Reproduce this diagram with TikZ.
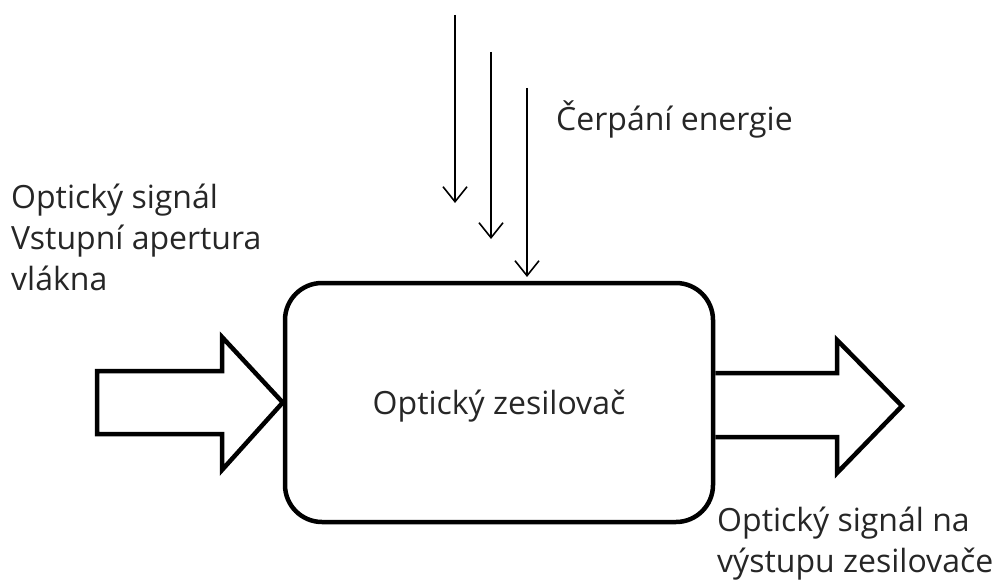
\documentclass[tikz,border=0pt]{standalone}
\usepackage{fontspec}
\setmainfont{Open Sans}
\usetikzlibrary{arrows.meta}
\begin{document}
\begin{tikzpicture}[x=1pt,y=-1pt,
  txt/.style={text=black!85, font=\fontsize{32}{41}\selectfont, inner sep=0pt},
  blockarrow/.style={draw=black, line width=4.5pt, miter limit=10, line join=miter, fill=white},
  pump/.style={draw=black, line width=1.6pt, -{Straight Barb[length=15pt,width=24pt,line width=1.6pt]}}]
\useasboundingbox (0,0) rectangle (992,580);
% amplifier box
\node[draw=black, line width=4.5pt, rounded corners=37pt, minimum width=428pt, minimum height=239pt, txt] (amp) at (499,402.5) {Optický zesilovač\vphantom{Ů}};
% input block arrow
\draw[blockarrow] (97,371) -- (222,371) -- (222,337) -- (amp.west) -- (222,470) -- (222,434) -- (97,434) -- cycle;
% output block arrow
\draw[blockarrow, fill=none] (amp.east |- 0,373) -- (837,373) -- (837,340) -- (902,406) -- (837,473) -- (837,437) -- (amp.east |- 0,437);
% pump arrows
\coordinate (p1s) at (455,15);  \coordinate (p1e) at (455,203);
\coordinate (p2s) at (491,52);  \coordinate (p2e) at (491,239);
\coordinate (p3s) at (527,88);  \coordinate (p3e) at (527,277);
\draw[pump] (p1s) -- (p1e);
\draw[pump] (p2s) -- (p2e);
\draw[pump] (p3s) -- (p3e);
% labels
\node[txt, anchor=base west] (pumplbl) at (556,131) {Čerpání energie};
\node[txt, anchor=base west, align=left] (inlbl) at (11,290) {Optický signál\\Vstupní apertura\\vlákna};
\node[txt, anchor=base west, align=left] (outlbl) at (717,572) {Optický signál na\\výstupu zesilovače};
\end{tikzpicture}
\end{document}
